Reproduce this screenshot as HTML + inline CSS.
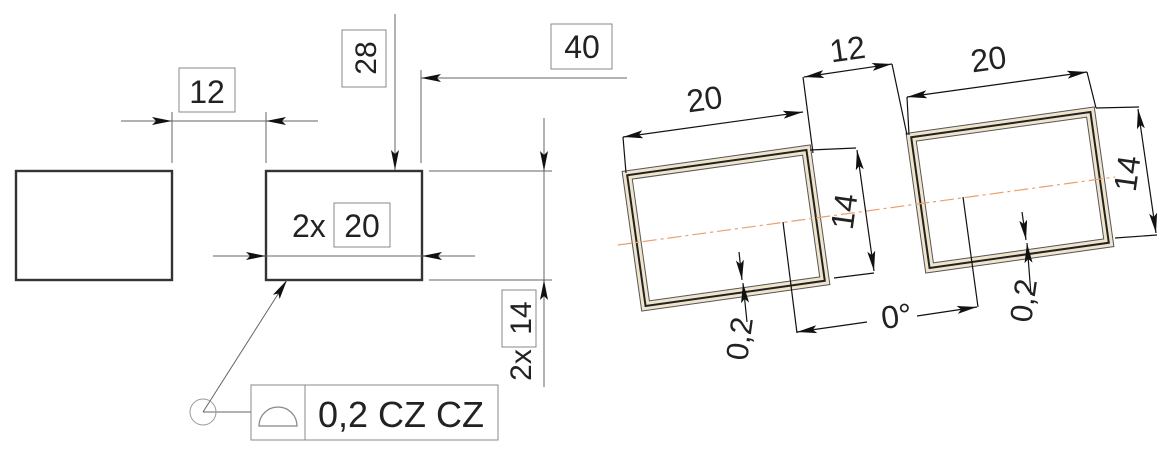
<!DOCTYPE html>
<html><head><meta charset="utf-8"><style>
html,body{margin:0;padding:0;background:#fff;}
svg{display:block;}
text{font-family:"Liberation Sans",sans-serif;fill:#222;}
</style></head><body>
<svg width="1169" height="449" viewBox="0 0 1169 449" xmlns="http://www.w3.org/2000/svg">
<defs>
<marker id="a" viewBox="0 0 20 8" refX="20" refY="4" markerWidth="20" markerHeight="8" markerUnits="userSpaceOnUse" orient="auto-start-reverse">
<path d="M0,0 L20,4 L0,8 L4,4 Z" fill="#111"/></marker>
</defs>
<!-- LEFT PART -->
<g fill="none" stroke="#333" stroke-width="2.4">
<rect x="16" y="171" width="156" height="109"/>
<rect x="266" y="171" width="156" height="109"/>
</g>
<g stroke="#666" stroke-width="1" fill="none">
<line x1="172" y1="112" x2="172" y2="163"/>
<line x1="266" y1="112" x2="266" y2="163"/>
<line x1="121" y1="121" x2="172" y2="121" marker-end="url(#a)"/>
<line x1="318" y1="121" x2="266" y2="121" marker-end="url(#a)"/>
<line x1="172" y1="121" x2="266" y2="121"/>
<line x1="395" y1="14" x2="395" y2="170" marker-end="url(#a)"/>
<line x1="421" y1="70" x2="421" y2="163"/>
<line x1="627" y1="78" x2="421" y2="78" marker-end="url(#a)"/>
<line x1="429" y1="171" x2="552" y2="171"/>
<line x1="429" y1="280" x2="552" y2="280"/>
<line x1="544" y1="118" x2="544" y2="171" marker-end="url(#a)"/>
<line x1="544" y1="387" x2="544" y2="280" marker-end="url(#a)"/>
<line x1="544" y1="171" x2="544" y2="280"/>
<line x1="213" y1="256" x2="266" y2="256" marker-end="url(#a)"/>
<line x1="475" y1="256" x2="422" y2="256" marker-end="url(#a)"/>
<line x1="266" y1="256" x2="422" y2="256"/>
<line x1="203" y1="412" x2="287" y2="280" marker-end="url(#a)"/>
<line x1="203" y1="412" x2="251" y2="412"/>
<circle cx="203" cy="412" r="13" stroke="#999"/>
</g>
<g fill="#fff" stroke="#888" stroke-width="1">
<rect x="179" y="68" width="56" height="44"/>
<rect x="342" y="30" width="44" height="57"/>
<rect x="551" y="24" width="61" height="45"/>
<rect x="334" y="203" width="56" height="44"/>
<rect x="502" y="290" width="34" height="57"/>
<rect x="251" y="385" width="247" height="55"/>
<line x1="305" y1="385" x2="305" y2="440"/>
</g>
<path d="M259,426 A19,19 0 0 1 297,426 Z" fill="none" stroke="#888" stroke-width="1.3"/>
<text x="207" y="103" font-size="32" text-anchor="middle">12</text>
<text transform="translate(376,58) rotate(-90)" font-size="30" text-anchor="middle">28</text>
<text x="582" y="58" font-size="32" text-anchor="middle">40</text>
<text x="292" y="237" font-size="32">2x</text>
<text x="362" y="237" font-size="32" text-anchor="middle">20</text>
<text transform="translate(531,318) rotate(-90)" font-size="30" text-anchor="middle">14</text>
<text transform="translate(531,365) rotate(-90)" font-size="30" text-anchor="middle">2x</text>
<text x="318" y="427" font-size="36">0,2 CZ CZ</text>

<!-- RIGHT PART -->
<g stroke="#222" stroke-width="1">
<g transform="translate(726,228) rotate(-8)">
<rect x="-95" y="-70.5" width="190" height="141" fill="#efe4cc" stroke="#555"/>
<rect x="-90.5" y="-66" width="181" height="132" fill="none" stroke="#222" stroke-width="2"/>
<rect x="-86" y="-61.5" width="172" height="123" fill="#fff" stroke="#555"/>
</g>
<g transform="translate(1010,190) rotate(-8)">
<rect x="-95" y="-70.5" width="190" height="141" fill="#efe4cc" stroke="#555"/>
<rect x="-90.5" y="-66" width="181" height="132" fill="none" stroke="#222" stroke-width="2"/>
<rect x="-86" y="-61.5" width="172" height="123" fill="#fff" stroke="#555"/>
</g>
</g>
<line x1="618" y1="245" x2="1115" y2="177" stroke="#e9a070" stroke-width="1.2" stroke-dasharray="14,4,3,4"/>
<g stroke="#111" stroke-width="1.2" fill="none">
<line x1="623" y1="137" x2="626" y2="173"/>
<line x1="803" y1="77" x2="813" y2="153"/>
<line x1="623" y1="137" x2="803" y2="112" marker-start="url(#a)" marker-end="url(#a)"/>
<line x1="804" y1="77" x2="892" y2="64" marker-start="url(#a)" marker-end="url(#a)"/>
<line x1="892" y1="64" x2="907" y2="135"/>
<line x1="907" y1="97" x2="1087" y2="72" marker-start="url(#a)" marker-end="url(#a)"/>
<line x1="907" y1="97" x2="909" y2="135"/>
<line x1="1087" y1="72" x2="1096" y2="108"/>
<line x1="810" y1="150" x2="856" y2="148"/>
<line x1="834" y1="278" x2="874" y2="273"/>
<line x1="857" y1="150" x2="874" y2="271" marker-start="url(#a)" marker-end="url(#a)"/>
<line x1="1096" y1="108" x2="1139" y2="107"/>
<line x1="1115" y1="238" x2="1157" y2="235"/>
<line x1="1138" y1="109" x2="1156" y2="233" marker-start="url(#a)" marker-end="url(#a)"/>
<line x1="783" y1="222" x2="797" y2="333"/>
<line x1="867" y1="322" x2="797" y2="332" marker-end="url(#a)"/>
<line x1="963" y1="197" x2="978" y2="307"/>
<line x1="917" y1="316" x2="977" y2="307" marker-end="url(#a)"/>
<line x1="739" y1="252" x2="742" y2="280" marker-end="url(#a)"/>
<line x1="747" y1="322" x2="743" y2="283" marker-end="url(#a)"/>
<line x1="1022" y1="212" x2="1026" y2="240" marker-end="url(#a)"/>
<line x1="1031" y1="295" x2="1027" y2="243" marker-end="url(#a)"/>
</g>
<text transform="translate(706,110) rotate(-8)" font-size="32" text-anchor="middle">20</text>
<text transform="translate(849,60) rotate(-8)" font-size="32" text-anchor="middle">12</text>
<text transform="translate(990,70) rotate(-8)" font-size="32" text-anchor="middle">20</text>
<text transform="translate(855,213) rotate(-82)" font-size="32" text-anchor="middle">14</text>
<text transform="translate(1138,175) rotate(-82)" font-size="32" text-anchor="middle">14</text>
<text transform="translate(898,327) rotate(-8)" font-size="32" text-anchor="middle">0°</text>
<text transform="translate(750,340) rotate(-82)" font-size="31" text-anchor="middle">0,2</text>
<text transform="translate(1034,302) rotate(-82)" font-size="31" text-anchor="middle">0,2</text>
</svg>
</body></html>
